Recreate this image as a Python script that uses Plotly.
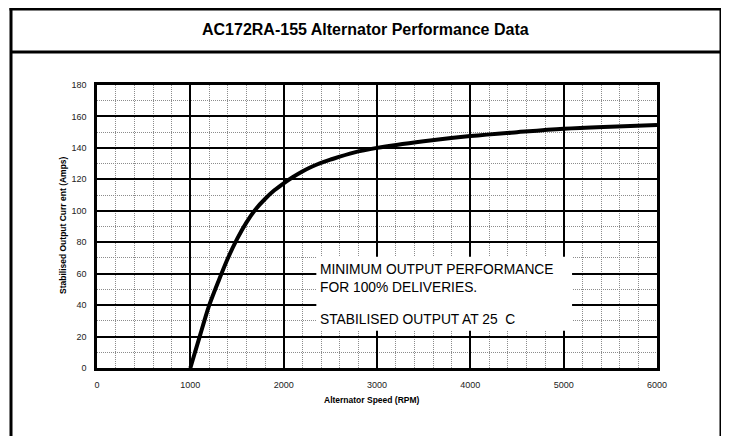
import plotly.graph_objects as go

# Data
speed_rpm = [1000, 1050, 1100, 1150, 1200, 1300, 1400, 1500, 1600, 1700, 1800, 1900, 2000,
             2100, 2200, 2300, 2400, 2500, 2750, 3000, 3500, 4000, 4500, 5000, 5500, 6000]
current_amps = [0, 10, 20, 30, 39.5, 55, 69.5, 82, 92.5, 101, 107.5, 113, 117.5,
                121.5, 125, 128, 130.5, 132.5, 137, 140, 144.2, 147.5, 150, 152.2, 153.5, 154.5]

x_ticks = [0, 1000, 2000, 3000, 4000, 5000, 6000]
y_ticks = [0, 20, 40, 60, 80, 100, 120, 140, 160, 180]

title_text = "AC172RA-155 Alternator Performance Data"
x_title = "Alternator Speed (RPM)"
y_title = "Stabilised Output Curr ent (Amps)"
note_lines = ["MINIMUM OUTPUT PERFORMANCE", "FOR 100% DELIVERIES.", "STABILISED OUTPUT AT 25  C"]

# page body has an 8px margin; work in screen pixels and convert
OFF = 8
W, H = 729 - OFF, 436 - OFF
L, R, T, B = 97 - OFF, 657 - OFF, 85 - OFF, 368 - OFF


def px(x):
    return (x - OFF - L) / (R - L)


def py(y):
    return (B - (y - OFF)) / (B - T)


fig = go.Figure()
fig.add_trace(go.Scatter(
    x=speed_rpm, y=current_amps, mode="lines",
    line=dict(color="black", width=4, shape="spline", smoothing=1.0),
    hoverinfo="skip", showlegend=False,
))

font_family = "Liberation Sans, Arial, sans-serif"

axis_common = dict(
    showline=True, linecolor="black", linewidth=2.5, mirror=True,
    showgrid=True, gridcolor="black", gridwidth=2,
    zeroline=False,
    ticks="outside", tickcolor="rgba(0,0,0,0)", ticklen=6,
    tickfont=dict(family=font_family, size=9, color="#222"),
)

fig.update_xaxes(
    range=[0, 6000], tickvals=x_ticks, ticktext=[str(v) for v in x_ticks],
    minor=dict(dtick=200, showgrid=True, gridcolor="#8c8c8c", gridwidth=1, griddash="1px,1px"),
    **axis_common,
)
fig.update_yaxes(
    range=[0, 180], tickvals=y_ticks, ticktext=[str(v) for v in y_ticks],
    minor=dict(dtick=10, showgrid=True, gridcolor="#8c8c8c", gridwidth=1, griddash="1px,1px"),
    **axis_common,
)

shapes = []
# white box behind note
shapes.append(dict(type="rect", xref="x", yref="y", x0=2350, x1=5090, y0=23.7, y1=70.7,
                   fillcolor="white", line=dict(width=0), layer="above"))
# outer frame (screen pixel positions)
frame = dict(color="black", width=3)
shapes.append(dict(type="line", xref="paper", yref="paper", x0=px(11), x1=px(11), y0=py(8), y1=py(450), line=frame))
shapes.append(dict(type="line", xref="paper", yref="paper", x0=px(721), x1=px(721), y0=py(8), y1=py(450), line=frame))
shapes.append(dict(type="line", xref="paper", yref="paper", x0=px(9.5), x1=px(722.5), y0=py(9), y1=py(9), line=frame))
shapes.append(dict(type="line", xref="paper", yref="paper", x0=px(11), x1=px(721), y0=py(52), y1=py(52), line=frame))

annotations = [
    dict(text=f"<b>{title_text}</b>", xref="paper", yref="paper", x=px(365), y=py(30),
         showarrow=False, font=dict(family=font_family, size=16, color="black"),
         xanchor="center", yanchor="middle"),
    dict(text=f"<b>{x_title}</b>", xref="paper", yref="paper", x=px(372), y=py(400),
         showarrow=False, font=dict(family=font_family, size=8.5, color="black"),
         xanchor="center", yanchor="middle"),
    dict(text=f"<b>{y_title}</b>", xref="paper", yref="paper", x=px(63), y=py(225),
         showarrow=False, textangle=-90, font=dict(family=font_family, size=8.5, color="black"),
         xanchor="center", yanchor="middle"),
    dict(text=note_lines[0] + "<br>" + note_lines[1], xref="x", yref="y", x=2365, y=56.7,
         showarrow=False, xanchor="left", yanchor="middle", align="left",
         font=dict(family=font_family, size=13.8, color="black")),
    dict(text=note_lines[2], xref="x", yref="y", x=2365, y=30.7,
         showarrow=False, xanchor="left", yanchor="middle", align="left",
         font=dict(family=font_family, size=13.8, color="black")),
]

fig.update_layout(
    width=W, height=H,
    margin=dict(l=L, r=W - R, t=T, b=H - B),
    paper_bgcolor="white", plot_bgcolor="white",
    shapes=shapes, annotations=annotations,
    showlegend=False,
)

fig.write_html("out.html")
